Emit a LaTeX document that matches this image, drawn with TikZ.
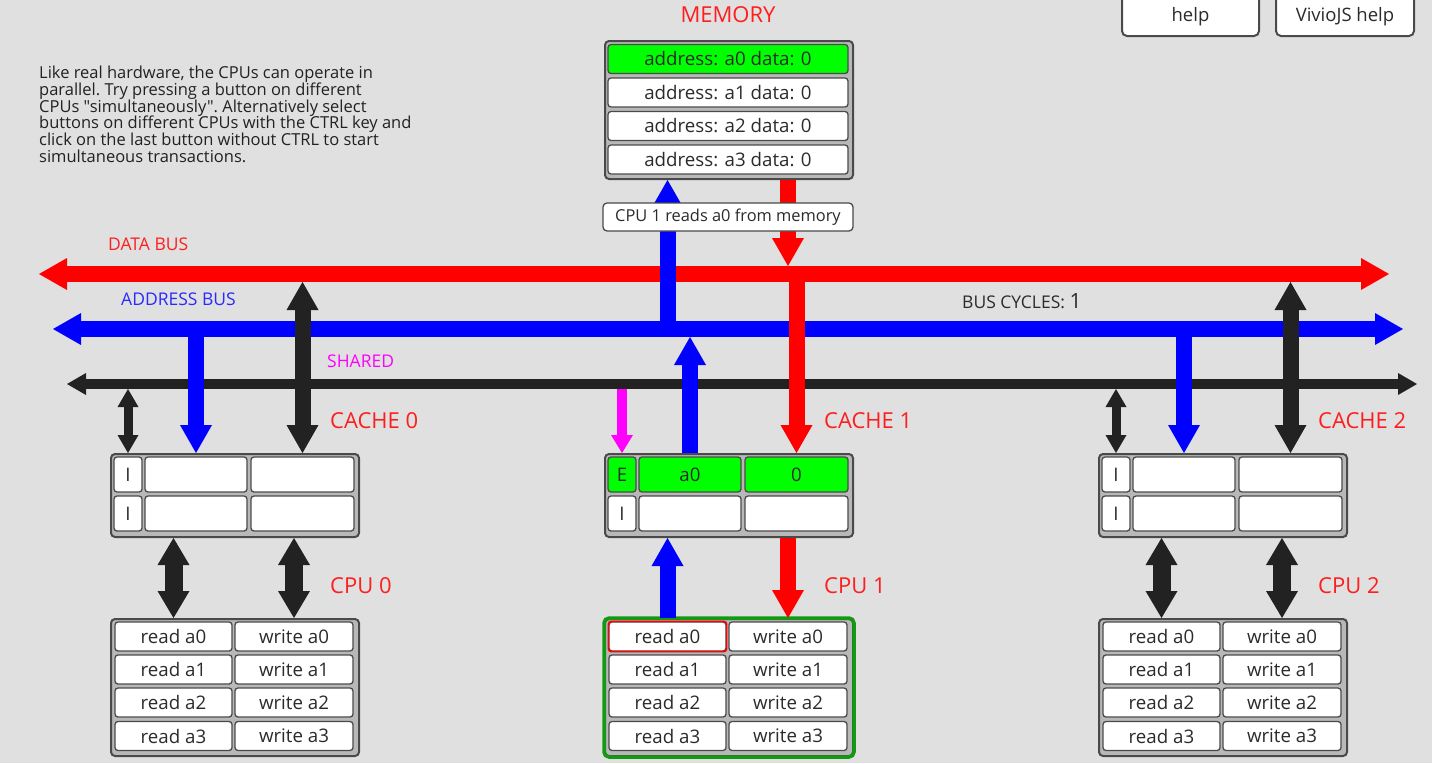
\documentclass[tikz,border=0pt]{standalone}
\usepackage{fontspec}
\setmainfont{Open Sans}[Ligatures=TeXOff]
\usetikzlibrary{arrows.meta,positioning}

\definecolor{bg}{HTML}{E0E0E0}
\definecolor{dark}{HTML}{222222}
\definecolor{edge}{HTML}{4A4A4A}
\definecolor{panelgray}{HTML}{B8B8B8}
\definecolor{txt}{HTML}{2B2B2B}
\definecolor{hit}{HTML}{00FF00}
\definecolor{cpuok}{HTML}{139A13}
\definecolor{lbl}{HTML}{FF1E1E}
\definecolor{abl}{HTML}{2A2AFF}
\definecolor{mag}{HTML}{FF00FF}

\tikzset{
  panel/.style={draw=edge, fill=panelgray, line width=2pt, rounded corners=4pt, inner sep=0pt, anchor=north west},
  cell/.style={draw=edge, fill=white, line width=1.3pt, rounded corners=3pt, inner sep=0pt, text=txt, font=\fontsize{18.7}{21}\selectfont},
  tag/.style={text=lbl, anchor=west, inner sep=0pt, font=\fontsize{22}{25}\selectfont},
  buslbl/.style={anchor=west, inner sep=0pt, font=\fontsize{17.5}{20}\selectfont},
  topbtn/.style={draw=edge, fill=white, line width=2pt, rounded corners=5pt, minimum height=46pt, anchor=south, text=txt, text height=17pt, text depth=0pt, font=\fontsize{18.5}{21}\selectfont},
  fatone/.style={line width=16pt, -{Triangle[length=28pt,width=32pt,line width=0pt]}},
  fatboth/.style={line width=16pt, {Triangle[length=28pt,width=32pt,line width=0pt]}-{Triangle[length=28pt,width=32pt,line width=0pt]}},
  cpuboth/.style={line width=18pt, {Triangle[length=27pt,width=32pt,line width=0pt]}-{Triangle[length=27pt,width=32pt,line width=0pt]}},
  slimboth/.style={line width=9pt, {Triangle[length=18pt,width=21pt,line width=0pt]}-{Triangle[length=18pt,width=21pt,line width=0pt]}},
}

\begin{document}
\begin{tikzpicture}[x=1pt, y=-1pt]
\useasboundingbox (0,0) rectangle (1432,763);
\fill[bg] (0,0) rectangle (1432,763);

% buses
\coordinate (dbusW) at (39,274);  \coordinate (dbusE) at (1389,274);
\coordinate (abusW) at (53,329);  \coordinate (abusE) at (1403,329);
\coordinate (sbusW) at (67,384);  \coordinate (sbusE) at (1417,384);
\coordinate (dbusT) at (0,266);   \coordinate (dbusM) at (0,274);   \coordinate (dbusB) at (0,282);
\coordinate (abusM) at (0,329);   \coordinate (abusB) at (0,337);
\coordinate (sbusB) at (0,389);
\draw[red, fatboth] (dbusW) -- (dbusE);
\draw[blue, fatboth] (abusW) -- (abusE);
\draw[dark, line width=10pt, {Triangle[length=19pt,width=22pt,line width=0pt]}-{Triangle[length=19pt,width=22pt,line width=0pt]}] (sbusW) -- (sbusE);

% memory
\node[text=lbl, font=\fontsize{22}{25}\selectfont] (memlbl) at (728,15) {MEMORY};
\node[panel, minimum width=248pt, minimum height=138pt] (mem) at (604,40) {};
\foreach \row/\y in {0/59,1/92.5,2/126,3/159.5}{
  \ifnum\row=0 \def\fc{hit}\else\def\fc{white}\fi
  \node[cell, fill=\fc, minimum width=240pt, minimum height=29pt] (m\row) at (728,\y) {address: a\row\ data: 0};
}

% caches and cpus
\foreach \i/\x in {0/110,1/604,2/1098}{
  \ifnum\i=1 \def\fc{hit}\def\st{E}\def\ad{a0}\def\dt{0}\else\def\fc{white}\def\st{I}\def\ad{}\def\dt{}\fi
  \node[panel, minimum width=248pt, minimum height=83pt] (c\i) at (\x,453) {};
  \node[cell, fill=\fc, minimum width=28pt, minimum height=35pt] (c\i-s1) at (\x+18,474.5) {\st};
  \node[cell, fill=\fc, minimum width=102pt, minimum height=35pt] (c\i-a1) at (\x+86,474.5) {\ad};
  \node[cell, fill=\fc, minimum width=103pt, minimum height=35pt] (c\i-d1) at (\x+192.5,474.5) {\dt};
  \node[cell, minimum width=28pt, minimum height=35pt] (c\i-s2) at (\x+18,513.5) {I};
  \node[cell, minimum width=102pt, minimum height=35pt] (c\i-a2) at (\x+86,513.5) {};
  \node[cell, minimum width=103pt, minimum height=35pt] (c\i-d2) at (\x+192.5,513.5) {};
  \node[tag] (ct\i) at (\x+220,421) {CACHE \i};
  \node[panel, minimum width=248pt, minimum height=137pt] (p\i) at (\x,618) {};
  \foreach \row/\y in {0/636.5,1/669.5,2/702.5,3/736}{
    \node[cell, minimum width=117pt, minimum height=29pt] (p\i-r\row) at (\x+63.5,\y) {read a\row};
    \node[cell, minimum width=118pt, minimum height=29pt] (p\i-w\row) at (\x+184,\y) {write a\row};
  }
  \node[tag] (pt\i) at (\x+220,586) {CPU \i};
}
\draw[cpuok, line width=3.5pt, rounded corners=5pt] (p1.north west) rectangle (p1.south east);
\draw[red, line width=1.6pt, rounded corners=3pt] (p1-r0.north west) rectangle (p1-r0.south east);

% memory ports
\draw[blue, fatone] (p1-r0 |- abusM) -- (p1-r0 |- mem.south);
\draw[red, fatone] (p1-w0 |- mem.south) -- (p1-w0 |- dbusT);

% idle caches
\foreach \i in {0,2}{
  \draw[dark, slimboth] (c\i-s1 |- sbusB) -- (c\i-s1 |- c\i.north);
  \draw[blue, fatone] (c\i-a1 |- abusM) -- (c\i-a1 |- c\i.north);
  \draw[dark, fatboth] (c\i-d1 |- dbusB) -- (c\i-d1 |- c\i.north);
  \draw[dark, cpuboth] (c\i.south -| p\i-r0) -- (p\i.north -| p\i-r0);
  \draw[dark, cpuboth] (c\i.south -| p\i-w0) -- (p\i.north -| p\i-w0);
}

% cache 1 reading
\draw[mag, line width=10pt, -{Triangle[length=18pt,width=22pt,line width=0pt]}] (c1-s1 |- sbusB) -- (c1-s1 |- c1.north);
\draw[blue, fatone] (c1-a1 |- c1.north) -- (c1-a1 |- abusB);
\draw[red, fatone] (c1-d1 |- dbusM) -- (c1-d1 |- c1.north);
\draw[blue, fatone] (p1.north -| p1-r0) -- (c1.south -| p1-r0);
\draw[red, fatone] (c1.south -| p1-w0) -- (p1.north -| p1-w0);

\node[draw=edge, fill=white, line width=1.3pt, rounded corners=4pt, minimum width=250pt, minimum height=28pt, inner sep=0pt, text=txt, font=\fontsize{16.4}{19}\selectfont] (tip) at (728,217) {CPU 1 reads a0 from memory};

% labels
\node[buslbl, text=lbl] (dlbl) at (108,244) {DATA BUS};
\node[buslbl, text=abl] (albl) at (121,299) {ADDRESS BUS};
\node[buslbl, text=mag] (slbl) at (327,361) {SHARED};
\node[buslbl, text=txt] (cyc) at (962,301) {BUS CYCLES: {\fontsize{21}{24}\selectfont 1}};

\node[anchor=north west, inner sep=0pt, align=left, text=dark, font=\fontsize{16.5}{16.7}\selectfont\frenchspacing] (intro) at (39,66)
  {Like real hardware, the CPUs can operate in\\parallel. Try pressing a button on different\\CPUs "simultaneously". Alternatively select\\buttons on different CPUs with the CTRL key and\\click on the last button without CTRL to start\\simultaneous transactions.};

\node[topbtn, minimum width=137pt] (help) at (1190.5,37) {help};
\node[topbtn, minimum width=138pt] (vhelp) at (1345,37) {VivioJS help};
\end{tikzpicture}
\end{document}
